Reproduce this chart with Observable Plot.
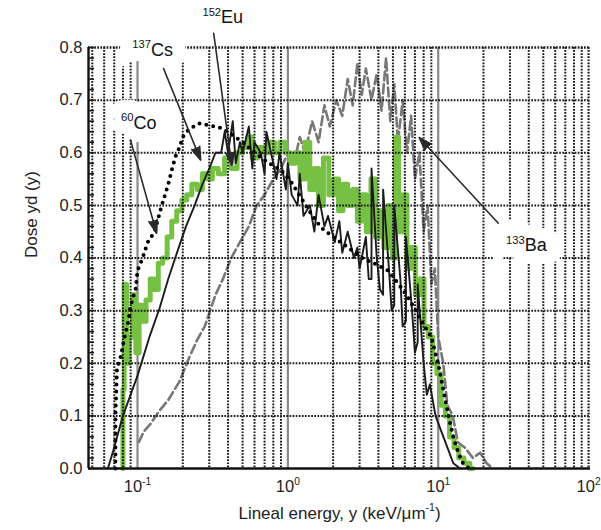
<!DOCTYPE html>
<html><head><meta charset="utf-8">
<script src="https://cdn.jsdelivr.net/npm/d3@7"></script>
<script src="https://cdn.jsdelivr.net/npm/@observablehq/plot@0.6"></script>
<style>body{margin:0;background:#fff} svg{display:block}</style>
</head><body><div id="chart"></div>
<script>
// ---- axes / ticks ----
const xDomain = [0.0472, 103];
const yDomain = [0, 0.8];
const xTicks = [0.1, 1, 10, 100];
const xTickLabels = ["10^-1^", "10^0^", "10^1^", "10^2^"];
const yTicks = [0, 0.1, 0.2, 0.3, 0.4, 0.5, 0.6, 0.7, 0.8];
const yGrid = [0.1, 0.2, 0.3, 0.4, 0.5, 0.6, 0.7];
const yMinor = [0.02,0.04,0.06,0.08,0.12,0.14,0.16,0.18,0.22,0.24,0.26,0.28,0.32,0.34,0.36,0.38,0.42,0.44,0.46,0.48,0.52,0.54,0.56,0.58,0.62,0.64,0.66,0.68,0.72,0.74,0.76,0.78];
const xGridMinor = [0.05,0.06,0.07,0.08,0.09,0.2,0.3,0.4,0.5,0.6,0.7,0.8,0.9,2,3,4,5,6,7,8,9,20,30,40,50,60,70,80,90];
const xGridMajor = [0.1, 1, 10];
const xLabel = "Lineal energy, y (keV/μm^-1^)";
const yLabel = "Dose yd (y)";

// ---- series ----
const co60X = [0.0713,0.0713,0.073,0.077,0.082,0.087,0.09,0.097,0.1,0.108,0.117,0.13,0.145,0.16,0.172,0.18,0.19,0.2,0.22,0.26,0.3,0.35,0.4,0.5,0.6,0.75,0.9,1.05,1.22,1.42,1.66,2.03,2.51,3.07,3.73,4.64,5.67,6.3,6.9,7.7,8.98,9.98,10.8,11.7,12.6,13.6,14.6,16];
const co60Y = [0,0.1,0.19,0.21,0.25,0.28,0.31,0.34,0.376,0.4,0.43,0.45,0.5,0.54,0.576,0.595,0.61,0.63,0.645,0.656,0.652,0.648,0.64,0.62,0.6,0.58,0.567,0.545,0.515,0.485,0.458,0.439,0.42,0.401,0.39,0.376,0.344,0.325,0.306,0.281,0.25,0.2,0.15,0.1,0.06,0.03,0.01,0];

const cs137X = [0.0635,0.069,0.08,0.1,0.12,0.14,0.16,0.185,0.21,0.24,0.27,0.3,0.33,
  0.36,0.38,0.4,0.43,0.45,0.48,0.5,0.55,0.58,0.6,0.66,0.7,0.72,0.8,0.84,0.88,0.97,1.0,1.06,1.16,
  1.2,1.27,1.4,1.5,1.6,1.75,1.85,2.05,2.2,2.3,2.5,2.75,2.9,3.0,3.3,3.45,3.6,3.6,3.9,4.1,
  4.3,4.3,4.7,4.9,5.1,5.1,5.6,5.8,6.1,6.1,6.7,7.0,7.3,7.3,8.0,8.4,8.8,9.6,10.5,11.5,12.6,14];
const cs137Y = [0,0.034,0.1,0.1765,0.25,0.304,0.36,0.414,0.46,0.5,0.54,0.57,0.6,
  0.6,0.64,0.6,0.66,0.58,0.62,0.6,0.65,0.57,0.62,0.6,0.56,0.64,0.58,0.55,0.6,0.53,0.58,0.52,0.5,
  0.56,0.48,0.5,0.45,0.52,0.46,0.48,0.43,0.47,0.41,0.45,0.4,0.42,0.38,0.44,0.36,0.36,0.57,0.4,0.34,
  0.33,0.53,0.38,0.3,0.31,0.5,0.36,0.27,0.28,0.44,0.3,0.22,0.24,0.35,0.2,0.14,0.16,0.1,0.07,0.04,0.01,0];

const eu152X = [0.08,0.08,0.083,0.086,0.09,0.095,0.1,0.105,0.11,0.118,0.125,0.133,0.142,0.152,0.163,0.175,0.19,0.205,0.22,0.24,0.26,0.28,0.3,0.33,0.36,0.4,0.44,0.48,0.52,0.56,0.6,0.66,0.72,0.78,0.85,0.92,1.0,1.08,1.16,1.25,1.35,1.45,1.55,1.65,1.8,1.95,2.1,2.25,2.4,2.6,2.8,3.0,3.2,3.45,3.7,3.95,4.2,4.5,4.8,5.1,5.3,5.6,6.0,6.4,6.8,7.3,7.8,8.3,8.9,9.5,10.1,10.8,11.5,12.3,13.2,14.2,15.5,17];
const eu152Y = [0,0.15,0.35,0.2,0.25,0.33,0.22,0.31,0.28,0.32,0.36,0.34,0.39,0.4,0.44,0.47,0.49,0.51,0.52,0.54,0.53,0.56,0.55,0.57,0.56,0.59,0.57,0.6,0.61,0.63,0.59,0.61,0.6,0.62,0.6,0.62,0.6,0.58,0.6,0.55,0.62,0.53,0.57,0.5,0.59,0.52,0.55,0.49,0.54,0.5,0.53,0.47,0.52,0.45,0.55,0.44,0.49,0.42,0.5,0.4,0.63,0.45,0.52,0.38,0.42,0.33,0.36,0.27,0.25,0.2,0.18,0.12,0.1,0.06,0.04,0.02,0.01,0];

const ba133X = [0.102,0.11,0.122,0.14,0.16,0.19,0.22,0.25,0.28,0.3,0.33,0.37,0.42,0.48,0.55,0.62,0.7,0.8,0.9,1.0,1.1,1.2,1.3,1.45,1.6,1.75,1.9,2.1,2.3,2.5,2.7,2.9,3.1,3.3,3.6,3.9,4.2,4.5,4.8,5.1,5.4,5.8,6.2,6.6,7.0,7.5,8.0,8.5,9.0,9.5,10,10.8,11.5,12.5,13.5,15,17,19,21,23];
const ba133Y = [0.05,0.07,0.085,0.11,0.13,0.165,0.21,0.245,0.27,0.295,0.33,0.36,0.4,0.43,0.46,0.5,0.52,0.55,0.57,0.6,0.58,0.63,0.6,0.66,0.62,0.69,0.65,0.7,0.67,0.74,0.69,0.77,0.71,0.76,0.7,0.75,0.68,0.78,0.66,0.73,0.62,0.7,0.6,0.67,0.55,0.6,0.45,0.5,0.35,0.38,0.25,0.2,0.12,0.1,0.05,0.04,0.02,0.03,0.01,0];

// ---- annotations ----
const isoLabels = ["^60^Co", "^137^Cs", "^152^Eu", "^133^Ba"];
const isoLabelX = [0.102, 0.126, 0.369, 38.6];
const isoLabelY = [0.656, 0.795, 0.857, 0.424];
const arrowX1 = [0.0898, 0.149, 0.321, 25.1];
const arrowY1 = [0.624, 0.760, 0.827, 0.466];
const arrowX2 = [0.134, 0.263, 0.424, 7.47];
const arrowY2 = [0.447, 0.586, 0.576, 0.629];

const toRows = (xs, ys) => xs.map((x, i) => ({x, y: ys[i]}));
const co60 = toRows(co60X, co60Y);
const cs137 = toRows(cs137X, cs137Y);
const eu152 = toRows(eu152X, eu152Y);
const ba133 = toRows(ba133X, ba133Y);
const labels = isoLabels.map((t, i) => ({t, x: isoLabelX[i], y: isoLabelY[i]}));
const arrows = arrowX1.map((x1, i) => ({x1, y1: arrowY1[i], x2: arrowX2[i], y2: arrowY2[i]}));

const dotted = {stroke: "#1a1a1a", strokeWidth: 2, strokeDasharray: "1.7,1.4"};
const frameW = 601 - 88 - 11;

const chart = Plot.plot({
  width: 601, height: 530,
  marginLeft: 88, marginRight: 11, marginTop: 47, marginBottom: 62,
  style: {fontFamily: "'Liberation Sans', Arial, sans-serif", fontSize: "16px", background: "#fff", color: "#222"},
  x: {type: "log", domain: xDomain},
  y: {domain: yDomain},
  marks: [
    Plot.ruleX(xGridMajor, {stroke: "#8a8a8a", strokeWidth: 2.2}),
    Plot.line(ba133, {x: "x", y: "y", stroke: "#777", strokeWidth: 2.6, strokeDasharray: "9 4"}),
    Plot.line(eu152, {x: "x", y: "y", stroke: "#76c043", strokeWidth: 5, curve: "step"}),
    Plot.line(cs137, {x: "x", y: "y", stroke: "#1c1c1c", strokeWidth: 1.9}),
    Plot.line(co60, {x: "x", y: "y", stroke: "#000", strokeWidth: 4, strokeDasharray: "0 7", strokeLinecap: "round"}),
    Plot.ruleX(xGridMinor, dotted),
    Plot.ruleY(yGrid, dotted),
    Plot.ruleY([yDomain[1]], {...dotted, strokeWidth: 2.4}),
    Plot.ruleX([xTicks[3]], {...dotted, strokeWidth: 2.2}),
    Plot.ruleY(yMinor.concat(yTicks), {stroke: "#1a1a1a", strokeWidth: 1.6, insetRight: frameW - 6}),
    // white label boxes
    Plot.text(labels, {x: "x", y: "y", text: "t", fontSize: 18, fill: "white", stroke: "white", strokeWidth: 26, strokeLinejoin: "miter"}),
    Plot.text(labels, {x: "x", y: "y", text: "t", fontSize: 18, fill: "#111"}),
    Plot.ruleY([yDomain[0]], {stroke: "#111", strokeWidth: 2.4}),
    Plot.ruleX([xDomain[0]], {stroke: "#111", strokeWidth: 2.4}),
    Plot.arrow(arrows, {x1: "x1", y1: "y1", x2: "x2", y2: "y2", stroke: "#2a2a2a", strokeWidth: 1.6, headLength: 13, headAngle: 36}),
    Plot.axisX({ticks: xTicks, tickFormat: d => xTickLabels[xTicks.indexOf(d)], tickSize: 0, tickPadding: 12, label: null, fontSize: 16.5}),
    Plot.axisY({ticks: yTicks, tickFormat: d3.format(".1f"), tickSize: 0, tickPadding: 6, label: null, fontSize: 16.5}),
    Plot.text([xLabel], {frameAnchor: "bottom", dy: 50, fontSize: 17, fill: "#222"}),
    Plot.text([yLabel], {frameAnchor: "left", dx: -57, rotate: -90, fontSize: 17, fill: "#222"})
  ]
});
document.getElementById("chart").appendChild(chart);

// filled arrowheads
chart.querySelectorAll('g[aria-label="arrow"] path').forEach(p => p.setAttribute("fill", "#2a2a2a"));

// superscripts: text between ^...^ becomes superscript
chart.querySelectorAll("text").forEach(t => {
  const s = t.textContent;
  if (!s.includes("^") || t.querySelector("tspan")) return;
  const fs = parseFloat(getComputedStyle(t).fontSize) || 16;
  const parts = s.split("^");
  t.textContent = "";
  let raised = false;
  parts.forEach((p, i) => {
    const sup = i % 2 === 1;
    if (!p) return;
    const ts = document.createElementNS("http://www.w3.org/2000/svg", "tspan");
    ts.textContent = p;
    if (sup) {
      ts.setAttribute("font-size", (fs * 0.62).toFixed(1));
      if (!raised) { ts.setAttribute("dy", (-fs * 0.42).toFixed(1)); raised = true; }
    } else {
      if (raised) { ts.setAttribute("dy", (fs * 0.42).toFixed(1)); raised = false; }
    }
    t.appendChild(ts);
  });
});
</script>
</body></html>
